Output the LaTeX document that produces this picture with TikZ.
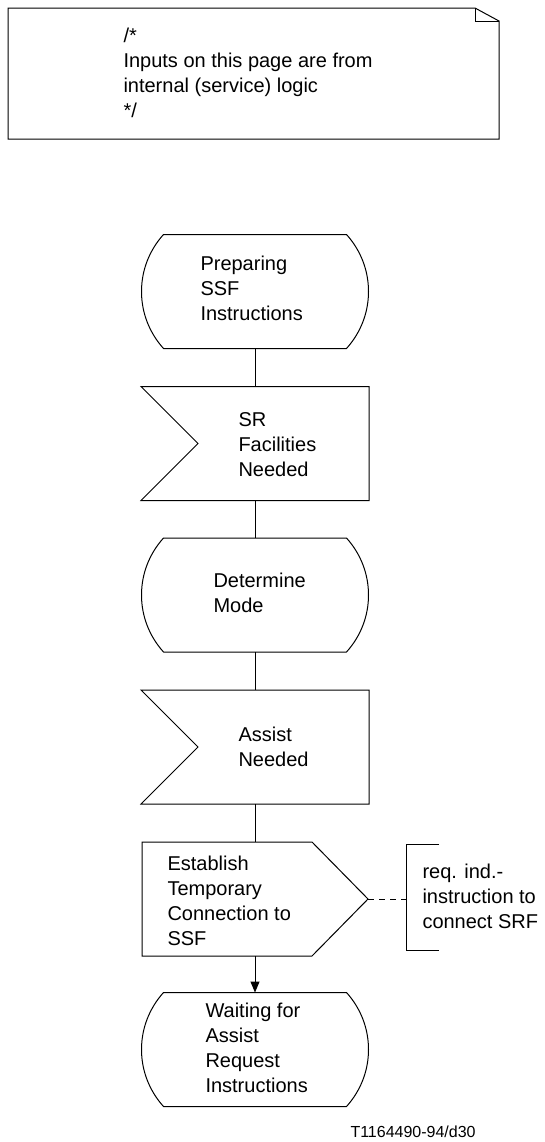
\documentclass[tikz,border=0pt]{standalone}
\usepackage{fontspec}
\setmainfont{Liberation Sans}
\usetikzlibrary{arrows.meta}
\begin{document}
\begin{tikzpicture}[x=0.75pt,y=-0.75pt,line width=0.75pt,
  txt/.style={anchor=west,align=left,inner sep=0pt,font=\fontsize{15pt}{18.75pt}\selectfont},
  conn/.style={draw=black,line width=0.75pt},
  statepic/.pic={
    \draw (-91.5,-57) -- (91.5,-57) .. controls (105.7,-41.2) and (113.5,-21.2) .. (113.5,0)
      .. controls (113.5,21.2) and (105.7,41.2) .. (91.5,57) -- (-91.5,57)
      .. controls (-105.7,41.2) and (-113.5,21.2) .. (-113.5,0)
      .. controls (-113.5,-21.2) and (-105.7,-41.2) .. cycle;
    \coordinate (-top) at (0,-57);
    \coordinate (-bot) at (0,57);
  },
  inpic/.pic={
    \draw (-114,-57) -- (114,-57) -- (114,57) -- (-114,57) -- (-57,0) -- cycle;
    \coordinate (-top) at (0,-57);
    \coordinate (-bot) at (0,57);
  },
  outpic/.pic={
    \draw (-113,-57) -- (57,-57) -- (113,0) -- (57,57) -- (-113,57) -- cycle;
    \coordinate (-top) at (0,-57);
    \coordinate (-bot) at (0,57);
    \coordinate (-tip) at (113,0);
  }]
\useasboundingbox (0,0) rectangle (544,1142);

% comment box
\draw (8,8) -- (475,8) -- (499,21) -- (499,139) -- (8,139) -- cycle;
\draw (475,8) -- (475,21) -- (499,21);
\node[txt] (cmt) at (123,73.3) {/*\\Inputs on this page are from\\internal (service) logic\\*/};

% flow shapes
\pic (prep) at (255,291.5) {statepic};
\node[txt] (prept) at (200,288) {Preparing\\SSF\\Instructions};

\pic (sr) at (255,443.5) {inpic};
\node[txt] (srt) at (238,445) {SR\\Facilities\\Needed};

\pic (det) at (255,595) {statepic};
\node[txt] (dett) at (213,593.3) {Determine\\Mode};

\pic (ast) at (255,747) {inpic};
\node[txt] (astt) at (238,747) {Assist\\Needed};

\pic (est) at (255,899) {outpic};
\node[txt] (estt) at (167,900.5) {Establish\\Temporary\\Connection to\\SSF};

\pic (wait) at (255,1049.5) {statepic};
\node[txt] (waitt) at (205,1047.5) {Waiting for\\Assist\\Request\\Instructions};

% bracket comment
\coordinate (brk) at (406,899);
\draw (439,844) -- (406,844) -- (406,950) -- (439,950);
\node[txt] (brkt) at (422,896.5) {req. ind.-\\instruction to\\connect SRF};

% connectors
\draw[conn] (prep-bot) -- (sr-top);
\draw[conn] (sr-bot) -- (det-top);
\draw[conn] (det-bot) -- (ast-top);
\draw[conn] (ast-bot) -- (est-top);
\draw[conn,-{Triangle[length=8.25pt,width=6.75pt]}] (est-bot) -- (wait-top);
\draw[conn,dash pattern=on 4.5pt off 3.75pt] (est-tip) -- (brk);

% footer
\node[anchor=base west,inner sep=0pt,font=\fontsize{12pt}{14pt}\selectfont] (foot) at (350,1137) {T1164490-94/d30};
\end{tikzpicture}
\end{document}
